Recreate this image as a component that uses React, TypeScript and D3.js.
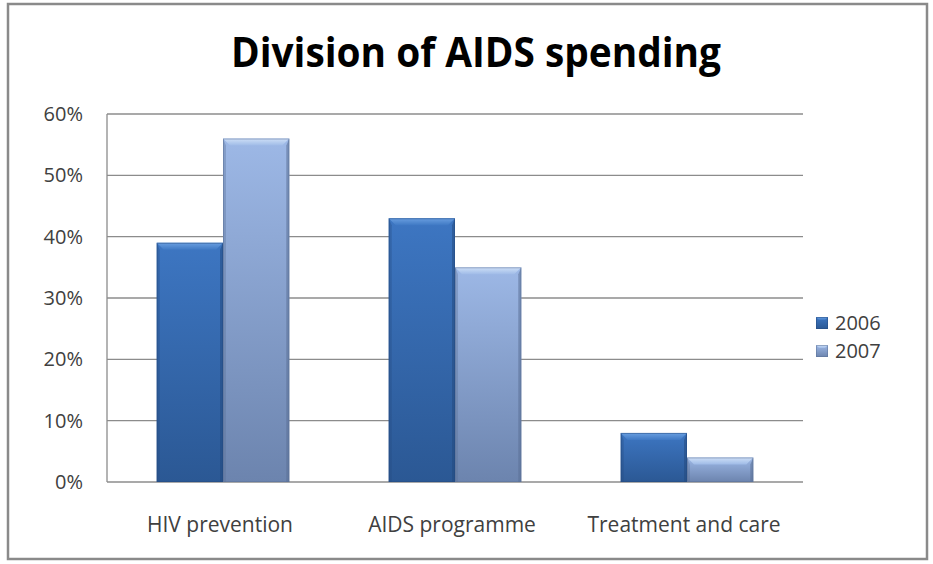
import React from "react";
import * as d3 from "d3";

const categories = ["HIV prevention", "AIDS programme", "Treatment and care"];
const seriesNames = ["2006", "2007"];
const values2006 = [0.39, 0.43, 0.08];
const values2007 = [0.56, 0.35, 0.04];
const yTicks = [0, 0.1, 0.2, 0.3, 0.4, 0.5, 0.6];
const titleText = "Division of AIDS spending";

const W = 933;
const H = 564;
const plot = { left: 107, right: 803, top: 114, bottom: 482 };
const FONT = "'Open Sans', 'Noto Sans', sans-serif";

const palettes = [
  { top: "#3d76c2", bottom: "#2b5894", bevTop: "#6a9fe0", bevBot: "#3f79c4", edge: "#244a80" },
  { top: "#9db8e6", bottom: "#6c84ae", bevTop: "#cfe0f7", bevBot: "#9fbbe7", edge: "#5a6f96" },
];

export default function App() {
  const series = [values2006, values2007];
  const x = d3.scaleBand<string>().domain(categories).range([plot.left, plot.right]).padding(0);
  const xs = d3.scaleBand<string>().domain(seriesNames).range([0, x.bandwidth()]).paddingInner(0).paddingOuter(0.75);
  const y = d3.scaleLinear().domain([0, 0.6]).range([plot.bottom, plot.top]);
  const fmt = d3.format(".0%");

  const bars: any[] = [];
  categories.forEach((c, ci) => {
    seriesNames.forEach((s, si) => {
      const v = series[si][ci];
      const bx = (x(c) as number) + (xs(s) as number);
      const bw = xs.bandwidth();
      const by = y(v);
      const bh = y(0) - by;
      bars.push({ key: c + s, si, bx, bw, by, bh });
    });
  });

  return (
    <svg width={W} height={H} style={{ position: "absolute", left: 0, top: 0, background: "#fff" }}>
      <defs>
        {palettes.map((p, i) => (
          <React.Fragment key={i}>
            <linearGradient id={`main${i}`} x1="0" y1="0" x2="0" y2="1">
              <stop offset="0%" stopColor={p.top} />
              <stop offset="100%" stopColor={p.bottom} />
            </linearGradient>
            <linearGradient id={`bev${i}`} x1="0" y1="0" x2="0" y2="1">
              <stop offset="0%" stopColor={p.bevTop} />
              <stop offset="100%" stopColor={p.bevBot} />
            </linearGradient>
          </React.Fragment>
        ))}
      </defs>
      <rect x={0} y={0} width={W} height={H} fill="#fff" />
      <rect x={8} y={4} width={919} height={555} fill="#fff" stroke="#8a8a8a" strokeWidth={2.5} />

      <text x={476} y={67} textAnchor="middle" fontFamily={FONT} fontWeight="bold" fontSize={42}
        textLength={490} lengthAdjust="spacingAndGlyphs" fill="#000">{titleText}</text>

      {yTicks.map((t) => (
        <g key={t}>
          <line x1={plot.left} x2={plot.right} y1={y(t)} y2={y(t)} stroke="#8c8c8c" strokeWidth={1.3} />
          <text x={83} y={y(t)} dy="0.35em" textAnchor="end" fontFamily={FONT} fontSize={20} fill="#404040">{fmt(t)}</text>
        </g>
      ))}
      <line x1={plot.left} x2={plot.left} y1={plot.top} y2={plot.bottom} stroke="#8c8c8c" strokeWidth={1.3} />

      {bars.map((b) => {
        const p = palettes[b.si];
        const bv = Math.min(7, b.bh / 2);
        const e = 3;
        return (
          <g key={b.key}>
            <rect x={b.bx} y={b.by} width={b.bw} height={b.bh} fill={`url(#main${b.si})`} />
            <polygon points={`${b.bx},${b.by} ${b.bx + e},${b.by + bv} ${b.bx + e},${b.by + b.bh} ${b.bx},${b.by + b.bh}`} fill={p.edge} opacity={0.35} />
            <polygon points={`${b.bx + b.bw},${b.by} ${b.bx + b.bw - e},${b.by + bv} ${b.bx + b.bw - e},${b.by + b.bh} ${b.bx + b.bw},${b.by + b.bh}`} fill={p.edge} opacity={0.55} />
            <polygon points={`${b.bx},${b.by} ${b.bx + b.bw},${b.by} ${b.bx + b.bw - bv},${b.by + bv} ${b.bx + bv},${b.by + bv}`} fill={`url(#bev${b.si})`} />
            <rect x={b.bx + 0.5} y={b.by + 0.5} width={b.bw - 1} height={b.bh - 1} fill="none" stroke={p.edge} strokeOpacity={0.5} strokeWidth={1} />
          </g>
        );
      })}

      {categories.map((c) => (
        <text key={c} x={(x(c) as number) + x.bandwidth() / 2 - 3} y={532} textAnchor="middle" fontFamily={FONT} fontSize={21} fill="#404040">{c}</text>
      ))}

      {seriesNames.map((s, i) => {
        const ly = 323 + i * 28;
        const p = palettes[i];
        return (
          <g key={s}>
            <rect x={816} y={ly - 6} width={12} height={12} fill={`url(#main${i})`} />
            <polygon points={`${816},${ly - 6} ${828},${ly - 6} ${825},${ly - 3} ${819},${ly - 3}`} fill={`url(#bev${i})`} />
            <rect x={816.5} y={ly - 5.5} width={11} height={11} fill="none" stroke={p.edge} strokeOpacity={0.5} />
            <text x={835} y={ly} dy="0.35em" fontFamily={FONT} fontSize={20} fill="#404040">{s}</text>
          </g>
        );
      })}
    </svg>
  );
}
